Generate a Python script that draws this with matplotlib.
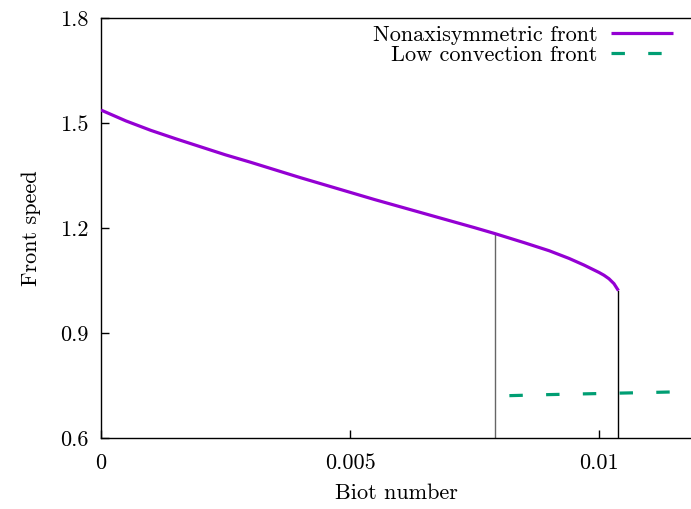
import matplotlib
matplotlib.use("Agg")
import matplotlib.pyplot as plt

plt.rcParams["font.family"] = "cmr10"
plt.rcParams["axes.formatter.use_mathtext"] = True
plt.rcParams["mathtext.fontset"] = "cm"

# Nonaxisymmetric front speed vs Biot number
biot_nonaxi = [0.0, 0.0005, 0.0010, 0.0015, 0.0020, 0.0025, 0.0030, 0.0035,
               0.0040, 0.0045, 0.0050, 0.0055, 0.0060, 0.0065, 0.0070,
               0.0075, 0.00791, 0.0085, 0.0090, 0.0094, 0.0097, 0.0100,
               0.0101, 0.0102, 0.0103, 0.01039]
speed_nonaxi = [1.537, 1.506, 1.479, 1.455, 1.432, 1.409, 1.388, 1.366,
                1.344, 1.323, 1.302, 1.281, 1.261, 1.241, 1.221,
                1.201, 1.184, 1.158, 1.135, 1.113, 1.094, 1.073,
                1.065, 1.055, 1.041, 1.021]

# Low convection front speed vs Biot number
biot_lowconv = [0.0082, 0.0090, 0.0100, 0.0110, 0.0119]
speed_lowconv = [0.721, 0.724, 0.727, 0.730, 0.733]

# Vertical markers where the nonaxisymmetric branch changes
marker_biot = [0.00791, 0.01039]
marker_top = [1.184, 1.021]
marker_colors = ["#666666", "#000000"]

x_ticks = [0.0, 0.005, 0.01]
x_tick_labels = ["0", "0.005", "0.01"]
y_ticks = [0.6, 0.9, 1.2, 1.5, 1.8]
y_tick_labels = ["0.6", "0.9", "1.2", "1.5", "1.8"]

fig = plt.figure(figsize=(6.91, 5.09), dpi=100)
ax = fig.add_axes([0.1462, 0.1395, 1.0 - 0.1462, 0.9646 - 0.1395])

for xb, top, c in zip(marker_biot, marker_top, marker_colors):
    ax.plot([xb, xb], [0.6, top], color=c, lw=1.0, zorder=1)

ax.plot(biot_nonaxi, speed_nonaxi, color="#9400D3", lw=2.3,
        label="Nonaxisymmetric front", zorder=3, solid_capstyle="butt")
ax.plot(biot_lowconv, speed_lowconv, color="#009E73", lw=2.3,
        dashes=(4.2, 7.3), label="Low convection front", zorder=3)

ax.set_xlim(0, 0.011847)
ax.set_ylim(0.6, 1.8)
ax.set_xticks(x_ticks)
ax.set_xticklabels(x_tick_labels)
ax.set_yticks(y_ticks)
ax.set_yticklabels(y_tick_labels)
ax.tick_params(direction="in", length=6, width=1, labelsize=16)
ax.tick_params(axis="x", pad=11)
ax.tick_params(axis="y", pad=9)
ax.spines["right"].set_visible(False)
for s in ["left", "bottom", "top"]:
    ax.spines[s].set_linewidth(1.0)

ax.set_xlabel("Biot number", fontsize=16, labelpad=8)
ax.set_ylabel("Front speed", fontsize=16, labelpad=14)

leg = ax.legend(loc="upper right", bbox_to_anchor=(1.003, 1.03),
                frameon=False, markerfirst=False, fontsize=16,
                handlelength=2.8, handletextpad=0.6, labelspacing=0.0)
for t in leg.get_texts():
    t.set_ha("right")

fig.savefig("out.png", dpi=100)
